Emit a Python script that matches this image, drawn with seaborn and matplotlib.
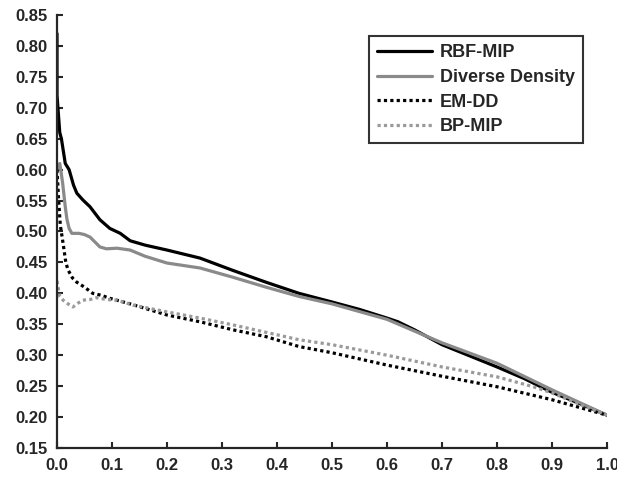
import numpy as np
import pandas as pd
import matplotlib
matplotlib.use("Agg")
import matplotlib.pyplot as plt
import seaborn as sns

# curvas
rbf_x = [0, 0, 0.005, 0.008, 0.015, 0.022, 0.03, 0.036, 0.047, 0.06, 0.078, 0.096, 0.115, 0.133,
         0.16, 0.2, 0.26, 0.32, 0.38, 0.44, 0.5, 0.55, 0.6, 0.62, 0.65, 0.7, 0.75, 0.8, 0.85, 0.9, 0.95, 1.0]
rbf_y = [0.82, 0.72, 0.66, 0.65, 0.61, 0.60, 0.575, 0.562, 0.551, 0.54, 0.519, 0.505, 0.497, 0.485,
         0.478, 0.47, 0.457, 0.437, 0.418, 0.40, 0.386, 0.374, 0.360, 0.354, 0.341, 0.317, 0.299, 0.281, 0.262, 0.240, 0.222, 0.203]

dd_x = [0, 0.005, 0.01, 0.015, 0.018, 0.022, 0.027, 0.04, 0.05, 0.06, 0.078, 0.09, 0.109, 0.133,
        0.16, 0.2, 0.26, 0.32, 0.38, 0.44, 0.5, 0.6, 0.7, 0.8, 0.9, 1.0]
dd_y = [0.60, 0.61, 0.58, 0.54, 0.52, 0.505, 0.497, 0.497, 0.495, 0.491, 0.475, 0.472, 0.473, 0.47,
        0.46, 0.449, 0.441, 0.426, 0.41, 0.395, 0.383, 0.358, 0.32, 0.287, 0.244, 0.203]

emdd_x = [0, 0.003, 0.006, 0.011, 0.016, 0.02, 0.028, 0.036, 0.05, 0.065, 0.08, 0.096, 0.133,
          0.2, 0.26, 0.32, 0.38, 0.44, 0.5, 0.6, 0.7, 0.8, 0.9, 1.0]
emdd_y = [0.60, 0.55, 0.51, 0.481, 0.45, 0.438, 0.425, 0.418, 0.41, 0.40, 0.397, 0.392, 0.383,
          0.365, 0.354, 0.341, 0.33, 0.314, 0.304, 0.284, 0.266, 0.249, 0.228, 0.203]

bp_x = [0, 0.005, 0.011, 0.02, 0.029, 0.038, 0.047, 0.06, 0.072, 0.09, 0.109, 0.138,
        0.2, 0.26, 0.32, 0.38, 0.44, 0.5, 0.6, 0.7, 0.8, 0.866, 0.9, 1.0]
bp_y = [0.42, 0.395, 0.389, 0.383, 0.378, 0.384, 0.389, 0.39, 0.393, 0.39, 0.389, 0.381,
        0.37, 0.36, 0.349, 0.337, 0.325, 0.317, 0.30, 0.281, 0.265, 0.249, 0.239, 0.203]

sns.set_style("ticks")
plt.rcParams['font.family'] = ['Liberation Sans', 'DejaVu Sans']
plt.rcParams['font.weight'] = 'bold'

fig = plt.figure(figsize=(6.17, 4.78), dpi=100)
ax = fig.add_axes([0.0924, 0.0628, 0.8914, 0.9058])

sns.lineplot(x=rbf_x, y=rbf_y, ax=ax, color='black', lw=2.3, estimator=None, sort=False, label='RBF-MIP')
sns.lineplot(x=dd_x, y=dd_y, ax=ax, color='#8a8a8a', lw=2.3, estimator=None, sort=False, label='Diverse Density')
sns.lineplot(x=emdd_x, y=emdd_y, ax=ax, color='black', lw=2.3, ls=(0, (1, 1)), estimator=None, sort=False, label='EM-DD')
sns.lineplot(x=bp_x, y=bp_y, ax=ax, color='#9a9a9a', lw=2.3, ls=(0, (1, 1)), estimator=None, sort=False, label='BP-MIP')

ax.set_xlim(0, 1.0)
ax.set_ylim(0.15, 0.85)
ax.set_xticks(np.arange(0, 1.01, 0.1))
ax.set_yticks(np.arange(0.15, 0.851, 0.05))
ax.set_xticklabels([f"{v:.1f}" for v in np.arange(0, 1.01, 0.1)])
ax.set_yticklabels([f"{v:.2f}" for v in np.arange(0.15, 0.851, 0.05)])
ax.tick_params(direction='in', length=4, width=1.5, labelsize=12, pad=7)
for s in ['left', 'bottom']:
    ax.spines[s].set_linewidth(1.6)
sns.despine(ax=ax)
ax.set_xlabel('')
ax.set_ylabel('')

leg = ax.legend(loc='upper right', bbox_to_anchor=(0.956, 0.951), borderaxespad=0,
                fontsize=13, handlelength=3.0, handletextpad=0.45, labelspacing=0.42,
                borderpad=0.45, frameon=True, fancybox=False, edgecolor='black')
leg.get_frame().set_linewidth(1.5)

fig.savefig('out.png', dpi=100)
